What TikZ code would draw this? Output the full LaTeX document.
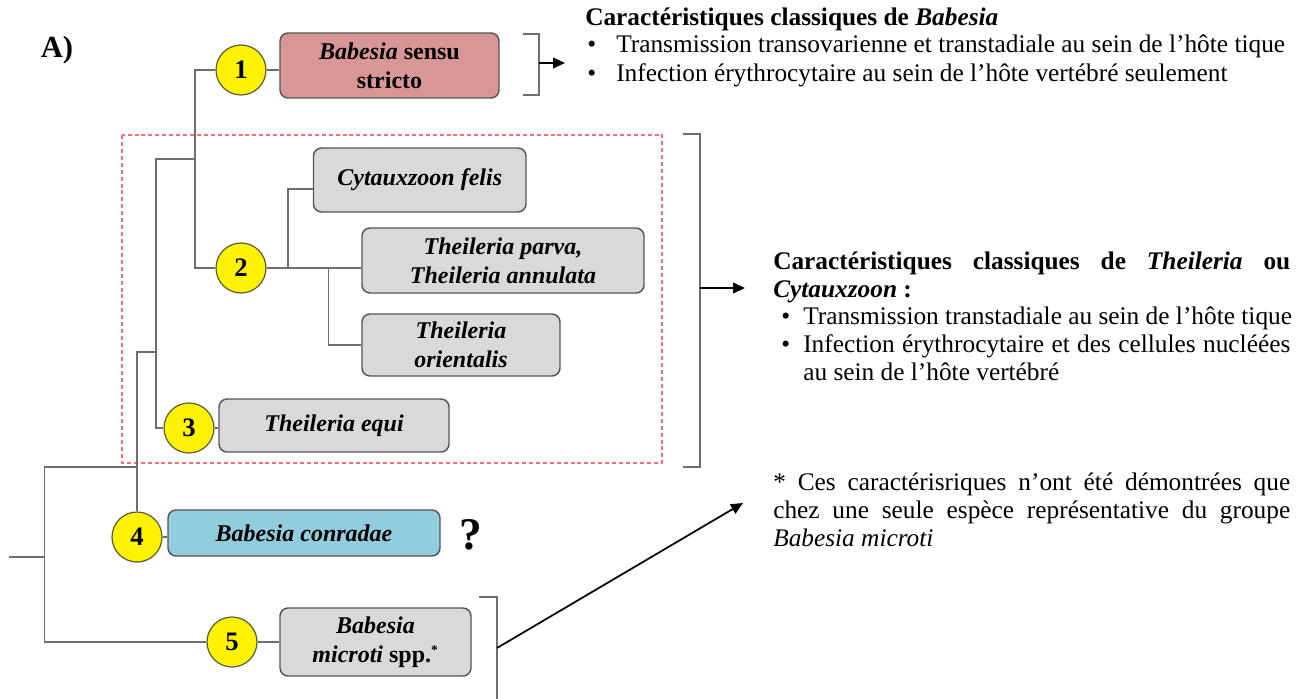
\documentclass[tikz,border=0pt]{standalone}
\usepackage{fontspec}
\setmainfont{Liberation Serif}
\usetikzlibrary{arrows.meta}
\definecolor{treegray}{RGB}{110,110,110}
\definecolor{boxgray}{RGB}{217,217,217}
\definecolor{boxedge}{RGB}{85,85,85}
\definecolor{boxred}{RGB}{217,150,150}
\definecolor{boxblue}{RGB}{146,205,221}
\definecolor{dashred}{RGB}{238,115,120}
\definecolor{ringcol}{RGB}{90,90,60}
\begin{document}
\begin{tikzpicture}[x=0.75pt,y=-0.75pt,
  tree/.style={draw=treegray,line width=1.3pt},
  brk/.style={draw=treegray,line width=1.4pt},
  arr/.style={draw=black,line width=1.3pt,-{Triangle[length=9pt,width=8pt]}},
  num/.style={circle,fill=yellow,draw=ringcol,line width=0.9pt,minimum size=37.5pt,inner sep=0pt,
    font=\fontsize{20}{20}\selectfont\bfseries},
  taxon/.style={rounded corners=6pt,draw=boxedge,line width=1.1pt,fill=boxgray,align=center,inner sep=0pt,
    font=\fontsize{18}{22}\selectfont\bfseries},
  bx/.style 2 args={minimum width=#1*0.75pt,minimum height=#2*0.75pt},
  body/.style={inner sep=0pt,anchor=base west,font=\fontsize{19}{21}\selectfont},
]
\useasboundingbox (0,0) rectangle (1303,699);

% panel letter
\node[inner sep=0pt,font=\fontsize{23}{23}\selectfont\bfseries] (lbl) at (57,50) {A)};

% clade enclosing Theileria and Cytauxzoon
\draw[dashred,line width=0.9pt,dash pattern=on 3pt off 2.2pt] (122,135) rectangle (662,463);

% numbered clades
\node[num] (c1) at (241,70) {1};
\node[num] (c2) at (241,268) {2};
\node[num] (c3) at (189,428) {3};
\node[num] (c4) at (137,537) {4};
\node[num] (c5) at (232,642) {5};

% taxon boxes
\node[taxon,fill=boxred,bx={219}{65}] (b1) at (389.5,65.5) {\textit{Babesia} sensu\\stricto};
\node[taxon,bx={212.5}{64}] (b2) at (419.75,180) {\textit{Cytauxzoon felis}};
\node[taxon,bx={282}{65}] (b3) at (503,260.5) {\textit{Theileria parva,}\\\textit{Theileria annulata}};
\node[taxon,bx={198}{62}] (b4) at (461,345) {\textit{Theileria}\\\textit{orientalis}};
\node[taxon,bx={230}{53}] (b5) at (334,425.5) {\textit{Theileria equi}};
\node[taxon,fill=boxblue,bx={272}{46}] (b6) at (304,533) {\textit{Babesia conradae}};
\node[taxon,bx={191}{68}] (b7) at (375.5,642) {\textit{Babesia}\\\textit{microti} spp.\textsuperscript{\fontsize{10}{10}\selectfont *}};
\node[inner sep=0pt,font=\fontsize{34}{34}\selectfont\bfseries] (q) at (471,535) {?};

% tree junctions
\coordinate (k1) at (195,159);
\coordinate (k2) at (156,352);
\coordinate (k3) at (137,467);
\coordinate (k4) at (44.6,557);
\coordinate (k5) at (288,268);
\coordinate (k6) at (328.5,268);
\coordinate (root) at (9,557);

% branches
\draw[tree] (c1.west) -| (k1) |- (c2.west);
\draw[tree] (k1) -| (k2) |- (c3.west);
\draw[tree] (k2) -| (c4.north);
\draw[tree] (k3) -| (k4) |- (c5.west);
\draw[tree] (root) -- (k4);
\draw[tree] (c1.east) -- (c1.east -| b1.west);
\draw[tree] (c2.east) -- (c2.east -| b3.west);
\draw[tree] (k5) |- ([yshift=-6.75pt]b2.west);
\draw[tree] (k6) |- (b4.west);
\draw[tree] (c3.east) -- (c3.east -| b5.west);
\draw[tree] (c4.east) -- (c4.east -| b6.west);
\draw[tree] (c5.east) -- (c5.east -| b7.west);

% brackets and arrows
\draw[brk] (523,34) -- (539,34) -- (539,95) -- (523,95);
\draw[brk] (683,134) -- (700,134) -- (700,467) -- (683,467);
\draw[brk] (479,597) -- (497,597) -- (497,702);
\coordinate (s1) at (539,63);
\coordinate (s2) at (700,288);
\coordinate (s3) at (497,648);

% descriptions
\node[body] (t1) at (585,26) {\bfseries Caractéristiques classiques de \textit{Babesia}};
\node[body] (t1a) at (587,53) {•};
\node[body] (t1b) at (616,53) {Transmission transovarienne et transtadiale au sein de l’hôte tique};
\node[body] (t1c) at (587,82) {•};
\node[body] (t1d) at (616,82) {Infection érythrocytaire au sein de l’hôte vertébré seulement};

\node[body] (t2) at (773,269) {\parbox[t]{387.75pt}{\bfseries Caractéristiques classiques de \textit{Theileria} ou\linebreak \textit{Cytauxzoon} :}};
\node[body] (t2a) at (781,324) {•};
\node[body] (t2b) at (803,324) {Transmission transtadiale au sein de l’hôte tique};
\node[body] (t2c) at (781,352) {•};
\node[body] (t2d) at (803,352) {\parbox[t]{365.25pt}{Infection érythrocytaire et des cellules nucléées\linebreak au sein de l’hôte vertébré}};

\node[body] (t3) at (773,490) {\parbox[t]{387.75pt}{* Ces caractérisriques n’ont été démontrées que\linebreak chez une seule espèce représentative du groupe\linebreak \textit{Babesia microti}}};

\draw[arr] (s1) -- (565,63);
\draw[arr] (s2) -- (745,288);
\draw[arr] (s3) -- (743,503);
\end{tikzpicture}
\end{document}
